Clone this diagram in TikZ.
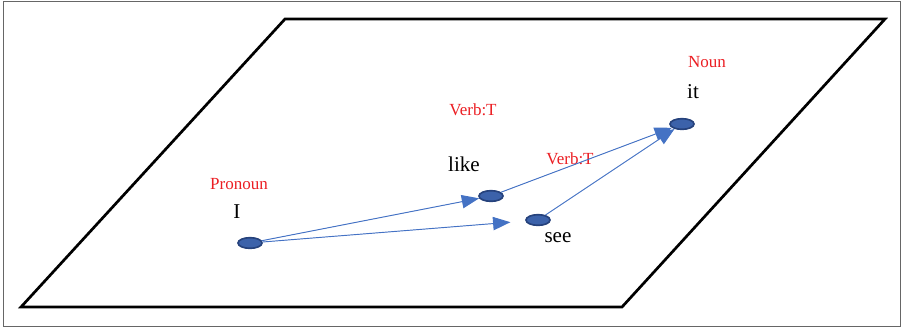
\documentclass[tikz,border=0pt]{standalone}
\usepackage{fontspec}
\setmainfont{Liberation Serif}
\usetikzlibrary{arrows.meta, positioning, shapes.geometric}

\definecolor{wordblue}{RGB}{60,98,170}
\definecolor{wordedge}{RGB}{38,66,124}
\definecolor{linkblue}{RGB}{68,114,196}
\definecolor{tagred}{RGB}{235,30,35}

\begin{document}
\begin{tikzpicture}[
    x=0.03cm, y=-0.03cm,
    word/.style={
        ellipse, draw=wordedge, fill=wordblue, line width=1.4pt,
        minimum width=0.72cm, minimum height=0.32cm, inner sep=0pt
    },
    tag/.style={text=tagred, font=\fontsize{14.5}{16}\selectfont, inner sep=0pt},
    token/.style={text=black, font=\fontsize{18}{20}\selectfont, inner sep=0pt},
    link/.style={-{Triangle[length=5.2mm, width=4mm]}, draw=linkblue, fill=linkblue, line width=0.8pt}
]
\useasboundingbox (0,0) rectangle (903,328);

% outer frame and plane
\draw[black!60, line width=0.8pt] (3,1.5) rectangle (900,326.5);
\draw[black, line width=2.3pt] (285,19) -- (885,19) -- (622,307) -- (21,307) -- cycle;

% words
\node[word] (i) at (250,243) {};
\node[word] (like) at (491,196) {};
\node[word] (see) at (538,220) {};
\node[word] (it) at (682,124) {};

% tokens
\node[token] (ilabel) at (237,212) {I};
\node[token] (likelabel) at (464,164) {like};
\node[token] (seelabel) at (558,238) {see};
\node[token] (itlabel) at (693,92) {it};

% tags
\node[tag] (pronoun) at (239,184) {Pronoun};
\node[tag] (verbtop) at (473,110) {Verb:T};
\node[tag] (verbmid) at (570,159) {Verb:T};
\node[tag] (noun) at (707,62) {Noun};

% links
\draw[link] (i) -- (like);
\draw[link, shorten >=0.45cm] (i) -- (see);
\draw[link] (like) -- (it);
\draw[link] (see) -- (it);

\end{tikzpicture}
\end{document}
